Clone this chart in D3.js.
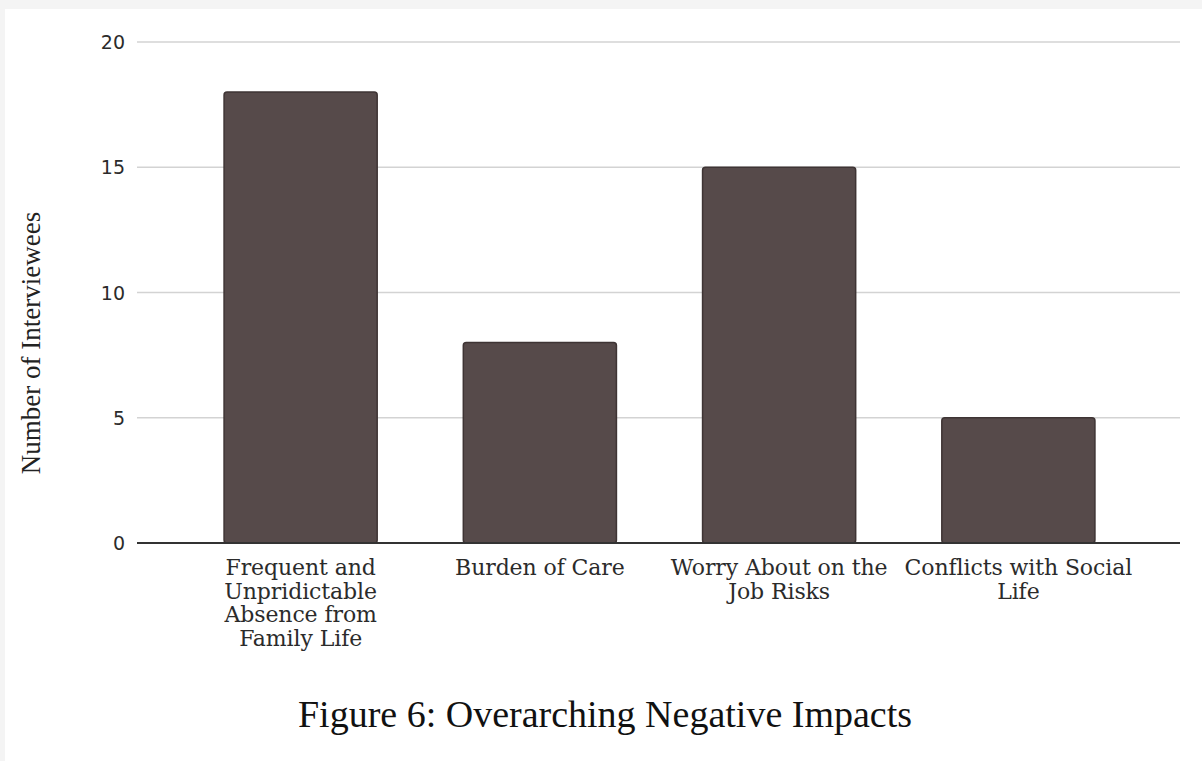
<!DOCTYPE html>
<html>
<head>
<meta charset="utf-8">
<script src="https://cdn.jsdelivr.net/npm/d3@7"></script>
<style>
  html, body { margin: 0; padding: 0; background: #f4f4f4; }
  svg { display: block; }
</style>
</head>
<body>
<svg id="chart" width="1202" height="761"></svg>
<script>
// Overarching negative impacts reported by interviewees
const categories = [
  ["Frequent and", "Unpridictable", "Absence from", "Family Life"],
  ["Burden of Care"],
  ["Worry About on the", "Job Risks"],
  ["Conflicts with Social", "Life"]
];
const categoryKeys = categories.map(c => c.join(" "));
const values = [18, 8, 15, 5];
const yTicks = [0, 5, 10, 15, 20];
const yTitle = "Number of Interviewees";
const caption = "Figure 6: Overarching Negative Impacts";

const svg = d3.select("#chart");

// white card on light grey page
svg.append("rect")
  .attr("x", 5).attr("y", 9)
  .attr("width", 1202 - 5).attr("height", 761 - 9)
  .attr("fill", "#ffffff");

const plot = { left: 137, right: 1180, top: 42, bottom: 543 };

const y = d3.scaleLinear()
  .domain([0, 20])
  .range([plot.bottom, plot.top]);

const x = d3.scaleBand()
  .domain(categoryKeys)
  .range([181, 1138])
  .paddingInner(0.36)
  .paddingOuter(0.18);

// gridlines
svg.append("g")
  .selectAll("line")
  .data(yTicks.filter(t => t > 0))
  .join("line")
  .attr("x1", plot.left).attr("x2", plot.right)
  .attr("y1", d => y(d)).attr("y2", d => y(d))
  .attr("stroke", "#d3d3d3")
  .attr("stroke-width", 1.5);

// y axis tick labels
const yAxis = d3.axisLeft(y).tickValues(yTicks).tickSize(0).tickPadding(0);
const yg = svg.append("g")
  .attr("transform", `translate(${plot.left - 12},0)`)
  .call(yAxis);
yg.select(".domain").remove();
yg.selectAll("text")
  .attr("font-family", "'DejaVu Sans', sans-serif")
  .attr("font-size", 19)
  .attr("fill", "#2b2b2b")
  .attr("dy", "0.35em");

// bars
svg.append("g")
  .selectAll("rect")
  .data(values)
  .join("rect")
  .attr("x", (d, i) => x(categoryKeys[i]))
  .attr("y", d => y(d))
  .attr("width", x.bandwidth())
  .attr("height", d => y(0) - y(d))
  .attr("rx", 3).attr("ry", 3)
  .attr("fill", "#564a4a")
  .attr("stroke", "#3e3434")
  .attr("stroke-width", 1.5);

// baseline
svg.append("line")
  .attr("x1", plot.left).attr("x2", plot.right)
  .attr("y1", y(0)).attr("y2", y(0))
  .attr("stroke", "#333333")
  .attr("stroke-width", 2);

// category labels
const xg = svg.append("g");
categories.forEach((lines, i) => {
  const cx = x(categoryKeys[i]) + x.bandwidth() / 2;
  const t = xg.append("text")
    .attr("x", cx)
    .attr("y", 575)
    .attr("text-anchor", "middle")
    .attr("font-family", "'DejaVu Serif', serif")
    .attr("font-size", 22)
    .attr("letter-spacing", -0.1)
    .attr("fill", "#2b2b2b");
  lines.forEach((ln, j) => {
    t.append("tspan")
      .attr("x", cx)
      .attr("dy", j === 0 ? 0 : 23.5)
      .text(ln);
  });
});

// y axis title
svg.append("text")
  .attr("transform", `translate(40,${343}) rotate(-90)`)
  .attr("text-anchor", "middle")
  .attr("font-family", "'Liberation Serif', 'Times New Roman', serif")
  .attr("font-size", 27)
  .attr("fill", "#222")
  .text(yTitle);

// figure caption
svg.append("text")
  .attr("x", 605)
  .attr("y", 727)
  .attr("text-anchor", "middle")
  .attr("font-family", "'Liberation Serif', 'Times New Roman', serif")
  .attr("font-size", 38)
  .attr("fill", "#111")
  .text(caption);
</script>
</body>
</html>
